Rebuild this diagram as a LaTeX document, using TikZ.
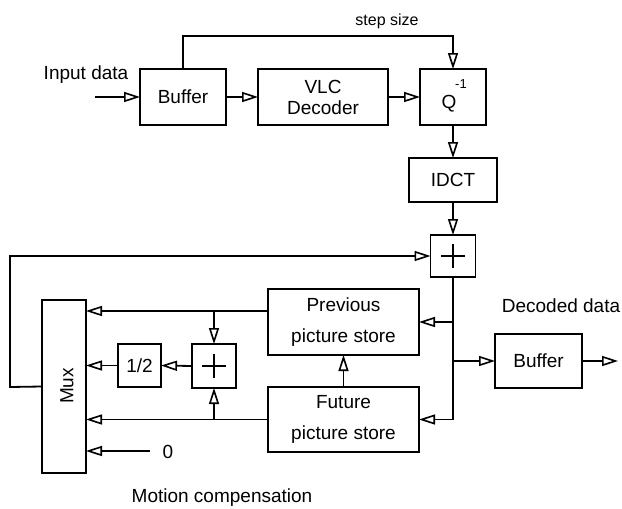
\documentclass[tikz,border=0pt]{standalone}
\usepackage{fontspec}
\setmainfont{Liberation Sans}
\usetikzlibrary{arrows.meta}
\begin{document}
\begin{tikzpicture}[x=1pt,y=-1pt,
  blk/.style={draw,line width=1.8pt,inner sep=0pt,outer sep=0pt,align=center,
    font=\fontsize{19}{22}\selectfont},
  arr/.style={line width=1.8pt,-{Triangle[open,length=16pt,width=10pt,line width=1.6pt]}},
  wire/.style={line width=1.8pt},
  lbl/.style={inner sep=0pt,font=\fontsize{19}{22}\selectfont}]
\useasboundingbox[fill=white] (0,0) rectangle (622,509);
% boxes
\node[blk,minimum width=86pt,minimum height=56pt] (buf1) at (183,97) {Buffer};
\node[blk,minimum width=130pt,minimum height=56pt] (vlc) at (323,97) {VLC\\[-1pt]Decoder};
\node[blk,minimum width=66pt,minimum height=56pt] (q) at (453,97) {};
\node[lbl] (qt) at (449,104) {Q};
\node[lbl,font=\fontsize{13}{15}\selectfont] (qs) at (461,84) {-1};
\node[blk,minimum width=88pt,minimum height=44pt] (idct) at (453,180) {IDCT};
\node[blk,minimum width=45pt,minimum height=42pt] (add1) at (453,256) {};
\node[blk,minimum width=44pt,minimum height=173pt] (mux) at (64,386.5) {};
\node[lbl,rotate=90] (muxt) at (67,386) {Mux};
\node[blk,minimum width=151pt,minimum height=66pt] (prev) at (343.5,322) {Previous\\[9pt]picture store};
\node[blk,minimum width=151pt,minimum height=65pt] (fut) at (343.5,419.5) {Future\\[9pt]picture store};
\node[blk,minimum width=44pt,minimum height=44pt] (add2) at (214,366) {};
\node[blk,minimum width=43pt,minimum height=43pt] (half) at (139.5,365.5) {1/2};
\node[blk,minimum width=87pt,minimum height=54pt] (buf2) at (538.5,361) {Buffer};
% plus signs
\draw[line width=1.6pt] ([xshift=-12pt]add1.center) -- ([xshift=12pt]add1.center)
  ([yshift=-12pt]add1.center) -- ([yshift=12pt]add1.center);
\draw[line width=1.6pt] ([xshift=-12pt]add2.center) -- ([xshift=12pt]add2.center)
  ([yshift=-12pt]add2.center) -- ([yshift=12pt]add2.center);
% labels
\node[lbl] (inlbl) at (86,75) {Input data};
\node[lbl,font=\fontsize{16}{19}\selectfont] (steplbl) at (387,21) {step size};
\node[lbl] (declbl) at (561,306) {Decoded data};
\node[lbl] (mclbl) at (222,498) {Motion compensation};
\node[lbl] (zero) at (168,452) {0};
% coordinates
\coordinate (in) at (95,97);
\coordinate (stp) at (453,36);
\coordinate (out) at (618,361);
\coordinate (z0) at (150,451);
\coordinate (fbx) at (10,387);
% connectors
\draw[arr] (in) -- (buf1.west);
\draw[arr] (buf1.east) -- (vlc.west);
\draw[arr] (vlc.east) -- (q.west);
\draw[arr] (buf1.north) |- (stp) -- (q.north);
\draw[arr] (q.south) -- (idct.north);
\draw[arr] (idct.south) -- (add1.north);
\draw[arr] (mux.west) -- (fbx) |- (add1.west);
\draw[wire] (add1.south) -- (add1.south |- fut.east);
\draw[arr] (add1.south |- prev.east) -- (prev.east);
\draw[arr] (add1.south |- buf2.west) -- (buf2.west);
\draw[arr] (add1.south |- fut.east) -- (fut.east);
\draw[arr] (buf2.east) -- (out);
\draw[arr] (fut.north) -- (prev.south);
\draw[arr] ([yshift=11pt]prev.west) -- ([yshift=11pt]prev.west -| mux.east);
\draw[arr] ([yshift=11pt]prev.west -| add2.north) -- (add2.north);
\draw[arr] (fut.west) -- (fut.west -| mux.east);
\draw[arr] (fut.west -| add2.south) -- (add2.south);
\draw[arr] (add2.west) -- (half.east);
\draw[arr] (half.west) -- (half.west -| mux.east);
\draw[arr] (z0) -- (z0 -| mux.east);
\end{tikzpicture}
\end{document}
